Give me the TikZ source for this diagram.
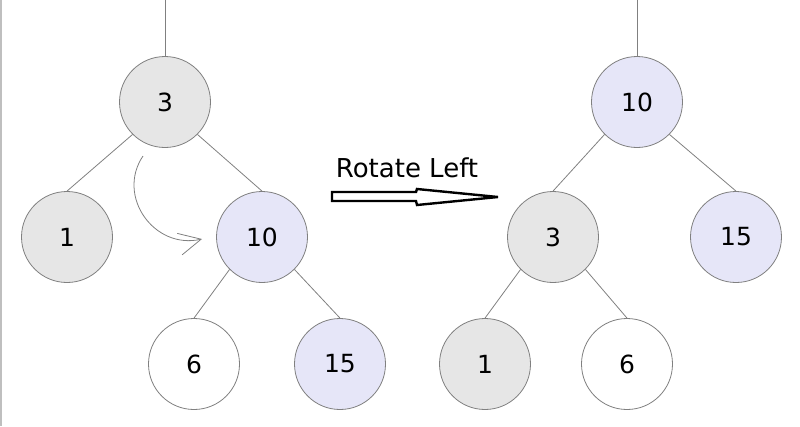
\documentclass[tikz,border=0pt]{standalone}
\usepackage{fontspec}
\setmainfont{DejaVu Sans}
\usetikzlibrary{arrows.meta}
\definecolor{grayfill}{HTML}{E6E6E6}
\definecolor{bluefill}{HTML}{E6E6F8}
\definecolor{linegray}{HTML}{808080}

\begin{document}
\begin{tikzpicture}[x=1pt, y=-1pt]
        \tikzstyle{tnode}=[circle, draw=linegray, line width=0.8pt, minimum size=91pt, inner sep=0pt, font=\fontsize{25}{30}\selectfont]
        \tikzstyle{gnode}=[tnode, fill=grayfill]
        \tikzstyle{bnode}=[tnode, fill=bluefill]
        \tikzstyle{wnode}=[tnode, fill=white]
        \tikzstyle{link}=[draw=linegray, line width=0.8pt]
        \useasboundingbox (0,0) rectangle (800,426);
        \draw[black!25, line width=1.5pt] (0.75,0) -- (0.75,426);
        % before rotation
        \node [gnode] (l3) at (165,102) {3};
        \node [gnode] (l1) at (67,237) {1};
        \node [bnode] (l10) at (262,237) {10};
        \node [wnode] (l6) at (194,364) {6};
        \node [bnode] (l15) at (340,364) {15};
        \coordinate (ltop) at (165,0);
        \draw [link] (ltop) -- (l3.north);
        \draw [link] (l3.south west) -- (l1.north);
        \draw [link] (l3.south east) -- (l10.north);
        \draw [link] (l10.south west) -- (l6.north);
        \draw [link] (l10.south east) -- (l15.north);
        % after rotation
        \node [bnode] (r10) at (637,102) {10};
        \node [gnode] (r3) at (553,237) {3};
        \node [bnode] (r15) at (736,237) {15};
        \node [gnode] (r1) at (485,364) {1};
        \node [wnode] (r6) at (627,364) {6};
        \coordinate (rtop) at (637,0);
        \draw [link] (rtop) -- (r10.north);
        \draw [link] (r10.south west) -- (r3.north);
        \draw [link] (r10.south east) -- (r15.north);
        \draw [link] (r3.south west) -- (r1.north);
        \draw [link] (r3.south east) -- (r6.north);
        % turning arrow
        \coordinate (turnfrom) at (143,156);
        \coordinate (turnto) at (202,239);
        \draw [link, -{Straight Barb[length=22pt, width=22pt]}] (turnfrom) .. controls (116,196) and (154,250) .. (turnto);
        % rotate left arrow
        \node [anchor=base, font=\fontsize{26}{30}\selectfont] (caption) at (407,177) {Rotate Left};
        \draw [line width=2.4pt, fill=white] (332,192) -- (416,192) -- (417,189) -- (498,197) -- (417,205) -- (416,201) -- (332,201) -- cycle;
    \end{tikzpicture}
\end{document}
